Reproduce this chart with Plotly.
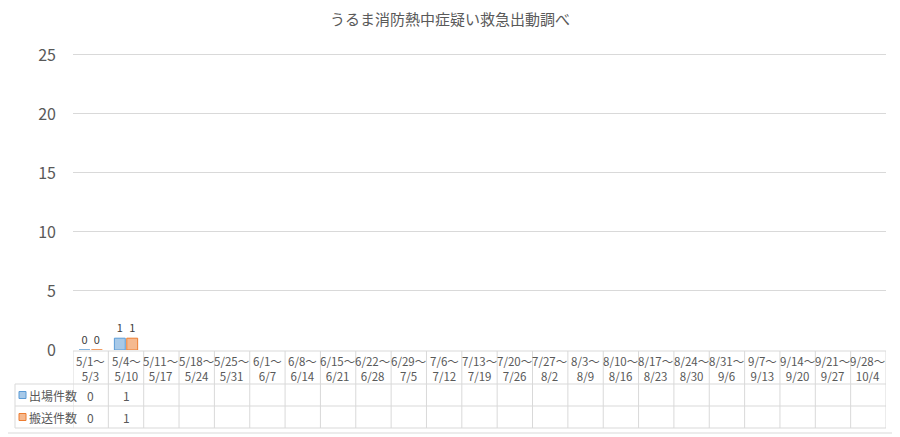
import plotly.graph_objects as go

# weekly periods (start / end) and counts
week_start = ["5/1", "5/4", "5/11", "5/18", "5/25", "6/1", "6/8", "6/15", "6/22",
              "6/29", "7/6", "7/13", "7/20", "7/27", "8/3", "8/10", "8/17",
              "8/24", "8/31", "9/7", "9/14", "9/21", "9/28"]
week_end = ["5/3", "5/10", "5/17", "5/24", "5/31", "6/7", "6/14", "6/21", "6/28",
            "7/5", "7/12", "7/19", "7/26", "8/2", "8/9", "8/16", "8/23", "8/30",
            "9/6", "9/13", "9/20", "9/27", "10/4"]
dispatch = [0, 1]       # 出場件数
transport = [0, 1]      # 搬送件数
series_names = ["出場件数", "搬送件数"]

categories = [s + "〜<br>" + e for s, e in zip(week_start, week_end)]
n = len(categories)

FONT = "Noto Sans CJK JP"
GRID = "#D9D9D9"
TXT = "#595959"
OFF = 8                     # page body margin
W, H = 900 - OFF, 437 - OFF


def py(px):
    # screen pixel row -> paper y
    return (H - (px - OFF)) / H


def pxx(px):
    return (px - OFF) / W


fig = go.Figure()
fills = [("rgba(157,195,230,0.9)", "#5B9BD5"), ("rgba(244,177,131,0.9)", "#ED7D31")]
for name, vals, (fc, lc) in zip(series_names, [dispatch, transport], fills):
    fig.add_trace(go.Bar(
        x=categories[:len(vals)], y=vals, name=name,
        marker=dict(color=fc, line=dict(color=lc, width=1)),
        text=[str(v) for v in vals], textposition="outside",
        textfont=dict(family=FONT, size=11, color="#404040"),
        cliponaxis=False, showlegend=False))

# data table below the plot
shapes = []
ann = []
top_h, r1, r2, bot = 351, 384, 406, 428
left_x, col0 = 15, 73
# horizontal rules
shapes.append(dict(type="line", xref="x", yref="paper", x0=-0.5, x1=n - 0.5,
                   y0=py(top_h), y1=py(top_h), line=dict(color=GRID, width=1)))
for yy in (r1, r2, bot):
    shapes.append(dict(type="line", xref="paper", yref="paper", x0=pxx(left_x), x1=pxx(886),
                       y0=py(yy), y1=py(yy), line=dict(color=GRID, width=1)))
# vertical rules
for i in range(n + 1):
    shapes.append(dict(type="line", xref="x", yref="paper", x0=i - 0.5, x1=i - 0.5,
                       y0=py(top_h), y1=py(bot), line=dict(color=GRID, width=1)))
shapes.append(dict(type="line", xref="paper", yref="paper", x0=pxx(left_x), x1=pxx(left_x),
                   y0=py(r1), y1=py(bot), line=dict(color=GRID, width=1)))

for c in categories:
    ann.append(dict(x=c, xref="x", y=py(368), yref="paper", text=c, showarrow=False,
                    font=dict(family=FONT, size=11.5, color=TXT), yanchor="middle"))
for vals, yy in ((dispatch, 395), (transport, 417)):
    for c, v in zip(categories, vals):
        ann.append(dict(x=c, xref="x", y=py(yy), yref="paper", text=str(v), showarrow=False,
                        font=dict(family=FONT, size=12, color=TXT), yanchor="middle"))

# legend keys in the table
for name, (fc, lc), yy in zip(series_names, fills, (395, 417)):
    shapes.append(dict(type="rect", xref="paper", yref="paper",
                       x0=pxx(19), x1=pxx(26), y0=py(yy + 3.5), y1=py(yy - 3.5),
                       fillcolor=fc, line=dict(color=lc, width=1)))
    ann.append(dict(x=pxx(27), xref="paper", y=py(yy), yref="paper", text=name,
                    showarrow=False, xanchor="left", yanchor="middle",
                    font=dict(family=FONT, size=12, color=TXT)))

# outer chart border (right and bottom edges)
shapes.append(dict(type="line", xref="paper", yref="paper", x0=pxx(897), x1=pxx(897),
                   y0=py(433), y1=1, line=dict(color=GRID, width=1)))
shapes.append(dict(type="line", xref="paper", yref="paper", x0=0, x1=pxx(897),
                   y0=py(433), y1=py(433), line=dict(color=GRID, width=1)))

fig.update_layout(
    width=W, height=H,
    margin=dict(l=0, r=0, t=0, b=0, autoexpand=False),
    paper_bgcolor="white", plot_bgcolor="white",
    title=dict(text="うるま消防熱中症疑い救急出動調べ", x=pxx(450), xanchor="center",
               y=py(20), yanchor="middle",
               font=dict(family=FONT, size=15, color=TXT)),
    barmode="group", bargap=0.3, bargroupgap=0.12,
    xaxis=dict(domain=[pxx(col0), pxx(886)], categoryorder="array", categoryarray=categories,
               range=[-0.5, n - 0.5], showticklabels=False, showgrid=False,
               zeroline=False, showline=False, fixedrange=True, automargin=False),
    yaxis=dict(domain=[py(350), py(52.6)], range=[0, 25.2], dtick=5, tick0=0,
               showgrid=True, gridcolor=GRID, gridwidth=1, zeroline=False,
               showline=False, ticks="", ticklabelstandoff=16, automargin=False,
               tickfont=dict(family=FONT, size=16, color=TXT)),
    shapes=shapes, annotations=ann,
    font=dict(family=FONT),
)

fig.write_html("out.html")
